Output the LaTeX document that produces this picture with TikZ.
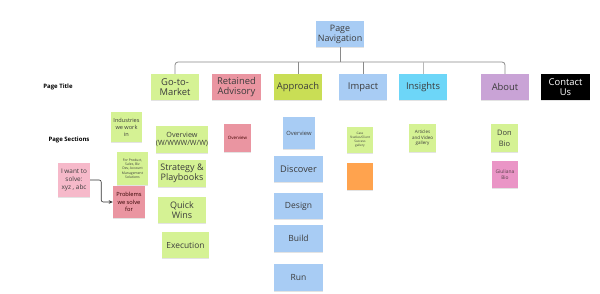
\documentclass[tikz,border=0pt]{standalone}
\usepackage{fontspec}
\setmainfont{Open Sans}
\usetikzlibrary{shadows,arrows.meta}
\definecolor{lime}{HTML}{D5F294}
\definecolor{olive}{HTML}{C9DE55}
\definecolor{rose}{HTML}{EA95A1}
\definecolor{lrose}{HTML}{F6B9CA}
\definecolor{mag}{HTML}{EA95C6}
\definecolor{sky}{HTML}{A8CCF4}
\definecolor{cyanb}{HTML}{6DD6F8}
\definecolor{lilac}{HTML}{C9A3D6}
\definecolor{orng}{HTML}{FFA34E}
\definecolor{txt}{HTML}{3C3C3C}
\definecolor{lnc}{HTML}{8A8A8A}
\newcommand{\fs}[1]{\fontsize{#1}{1.25\dimexpr #1pt\relax}\selectfont}
\tikzset{
  note/.style={rectangle, draw=none, inner sep=0pt, align=center, text=txt,
    drop shadow={shadow xshift=0pt, shadow yshift=-1.3pt, opacity=0.22}},
  big/.style={note, minimum width=48, minimum height=26, font=\fontsize{9.4}{10.5}\selectfont},
  conn/.style={draw=lnc, line width=0.8pt},
  lbl/.style={font=\bfseries\fontsize{6}{7}\selectfont, text=black, inner sep=0pt},
}
\begin{document}
\begin{tikzpicture}[x=1pt,y=-1pt]
\useasboundingbox[fill=white] (0,0) rectangle (600,294);

% top nav
\node[big, fill=sky, minimum width=48, minimum height=26, font=\fontsize{8.9}{10}\selectfont] (pn) at (340,34) {Page\\Navigation};

% page titles
\node[big, fill=lime] (gtm) at (175,87) {Go-to-\\Market};
\node[big, fill=rose, minimum width=49] (ret) at (236.5,87) {Retained\\Advisory};
\node[big, fill=olive] (app) at (298,87) {Approach};
\node[big, fill=sky] (imp) at (363,87) {Impact};
\node[big, fill=cyanb] (ins) at (423,87) {Insights};
\node[big, fill=lilac] (abt) at (505,87) {About};
\node[big, fill=black, text=white, minimum width=49] (con) at (565.5,87) {Contact\\Us};

% tree connectors
\coordinate (bar) at (0,62);
\draw[conn, rounded corners=3] (gtm.north) |- (bar -| abt.north) -- (abt.north);
\draw[conn] (pn.south) -- (pn.south |- bar);
\draw[conn] (app.north) -- (app.north |- bar);
\draw[conn] (imp.north) -- (imp.north |- bar);
\draw[conn, draw=lnc!60] (ins.north) -- (ins.north |- bar);

% labels
\node[lbl] (lt) at (58,87) {Page Title};
\node[lbl] (ls) at (69,140) {Page Sections};

% Go-to-Market column
\node[note, fill=lime, minimum width=31, minimum height=30, font=\fs{5.6}] (ind) at (126.5,127) {Industries\\we work\\in};
\node[note, fill=lime, minimum width=48, minimum height=27, font=\fontsize{7.2}{8.5}\selectfont] (ov1) at (182,139.5) {Overview\\(W/WWW/W/W)};
\node[note, fill=lime, minimum width=31, minimum height=33, font=\fs{3.4}] (forp) at (132.5,168.5) {For Product,\\Sales, Biz\\Dev, Account\\Management\\Solutions};
\node[note, fill=lime, minimum width=48, minimum height=27, font=\fontsize{9}{10.2}\selectfont] (strat) at (182,173.5) {Strategy \&\\Playbooks};
\node[note, fill=lrose, minimum width=32, minimum height=34, font=\fontsize{6.4}{8.2}\selectfont] (iwant) at (74,180) {I want to\\solve:\\xyz , abc};
\node[note, fill=rose, minimum width=32, minimum height=32, font=\fontsize{5.7}{7.2}\selectfont, text=black!80!red] (prob) at (129,202) {Problems\\we solve\\for};
\node[note, fill=lime, minimum width=48, minimum height=26, font=\fontsize{9}{10.2}\selectfont] (qw) at (182,210) {Quick\\Wins};
\node[note, fill=lime, minimum width=47, minimum height=26, font=\fs{8.4}] (exe) at (185.5,245) {Execution};
\draw[draw=black!80, line width=0.6pt, rounded corners=2, -{Stealth[length=4pt,width=3.5pt]}] (iwant.east) -- ++(11,0) |- (prob.west);

% Retained Advisory
\node[note, fill=rose, minimum width=27, minimum height=28, font=\fs{4.4}, text=black!75!red] (ovp) at (237.5,138) {Overview};

% Approach column
\node[note, fill=sky, minimum width=32, minimum height=32, font=\fs{5.8}] (ovb) at (299,133) {Overview};
\node[note, fill=sky, minimum width=49, minimum height=26, font=\fs{9.2}] (disc) at (298.5,169) {Discover};
\node[note, fill=sky, minimum width=49, minimum height=26, font=\fs{8.5}] (des) at (298.5,206) {Design};
\node[note, fill=sky, minimum width=49, minimum height=27, font=\fs{8.5}] (bld) at (298.5,238.5) {Build};
\node[note, fill=sky, minimum width=49, minimum height=27, font=\fs{8.5}] (run) at (298.5,277.5) {Run};

% Impact column
\node[note, fill=lime, minimum width=26, minimum height=26, font=\fs{3.1}] (case) at (360,140) {Case\\Studies/Client\\Success\\gallery};
\node[note, fill=orng, minimum width=26, minimum height=27] (orn) at (360,176.5) {};

% Insights column
\node[note, fill=lime, minimum width=27, minimum height=28, font=\fs{4.5}] (art) at (422.5,138) {Articles\\and Video\\gallery};

% About column
\node[note, fill=lime, minimum width=27, minimum height=28, font=\fontsize{7.5}{11}\selectfont] (don) at (504.5,138) {Don\\Bio};
\node[note, fill=mag, minimum width=26, minimum height=27, font=\fontsize{4.9}{5.8}\selectfont, text=black!75!magenta] (giu) at (505,174.5) {Giuliana\\Bio};
\end{tikzpicture}
\end{document}
